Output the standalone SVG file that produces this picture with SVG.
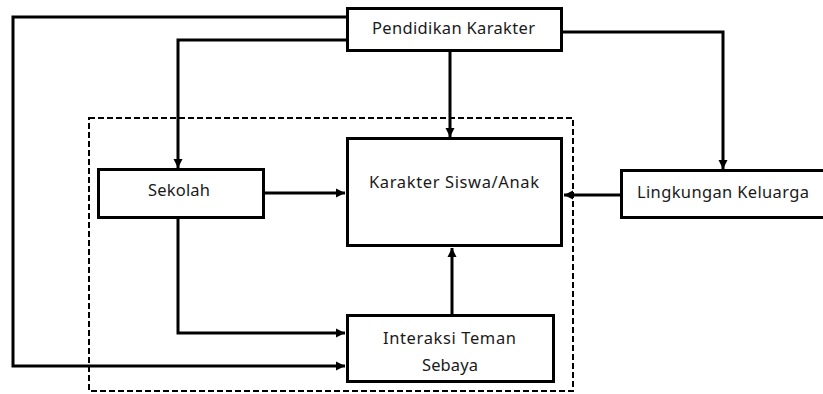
<svg xmlns="http://www.w3.org/2000/svg" width="823" height="394" viewBox="0 0 823 394">
<style>
.box{fill:#fff;stroke:#000;stroke-width:3}
.conn{fill:none;stroke:#000;stroke-width:3}
.lbl{font-family:"Noto Sans","Liberation Sans",sans-serif;font-size:16.5px;fill:#1a1a1a;text-anchor:middle}
</style>
<defs>
<marker id="arr" markerUnits="userSpaceOnUse" markerWidth="10" markerHeight="10" refX="9" refY="5" orient="auto">
<path d="M0,0.5 L9,5 L0,9.5 z" fill="#000"/>
</marker>
</defs>
<rect width="823" height="394" fill="#fff"/>
<rect id="boundary" x="89" y="118" width="484" height="273" fill="none" stroke="#000" stroke-width="2" stroke-dasharray="6,3"/>
<g id="connectors">
<path class="conn" d="M346,17 H13 V366 H345" marker-end="url(#arr)"/>
<path class="conn" d="M346,40 H178 V168" marker-end="url(#arr)"/>
<path class="conn" d="M450,52 V137" marker-end="url(#arr)"/>
<path class="conn" d="M563,32 H723 V169" marker-end="url(#arr)"/>
<path class="conn" d="M265,193 H345" marker-end="url(#arr)"/>
<path class="conn" d="M178,219 V333 H345" marker-end="url(#arr)"/>
<path class="conn" d="M452,314 V248" marker-end="url(#arr)"/>
<path class="conn" d="M620,195 H564" marker-end="url(#arr)"/>
</g>
<g id="pendidikan">
<rect class="box" x="347.5" y="8.5" width="214" height="42"/>
<text class="lbl" x="453.5" y="34" textLength="163" lengthAdjust="spacing">Pendidikan Karakter</text>
</g>
<g id="karakter">
<rect class="box" x="347.5" y="138.5" width="214" height="107"/>
<text class="lbl" x="454" y="188" textLength="170" lengthAdjust="spacing">Karakter Siswa/Anak</text>
</g>
<g id="sekolah">
<rect class="box" x="98.5" y="169.5" width="165" height="48"/>
<text class="lbl" x="179" y="196" textLength="62" lengthAdjust="spacing">Sekolah</text>
</g>
<g id="interaksi">
<rect class="box" x="347.5" y="315.5" width="206" height="66"/>
<text class="lbl" x="449.5" y="344" textLength="133" lengthAdjust="spacing">Interaksi Teman</text>
<text class="lbl" x="450" y="371" textLength="56" lengthAdjust="spacing">Sebaya</text>
</g>
<g id="lingkungan">
<rect class="box" x="621.5" y="170.5" width="210" height="47"/>
<text class="lbl" x="723" y="198" textLength="172" lengthAdjust="spacing">Lingkungan Keluarga</text>
</g>
</svg>
